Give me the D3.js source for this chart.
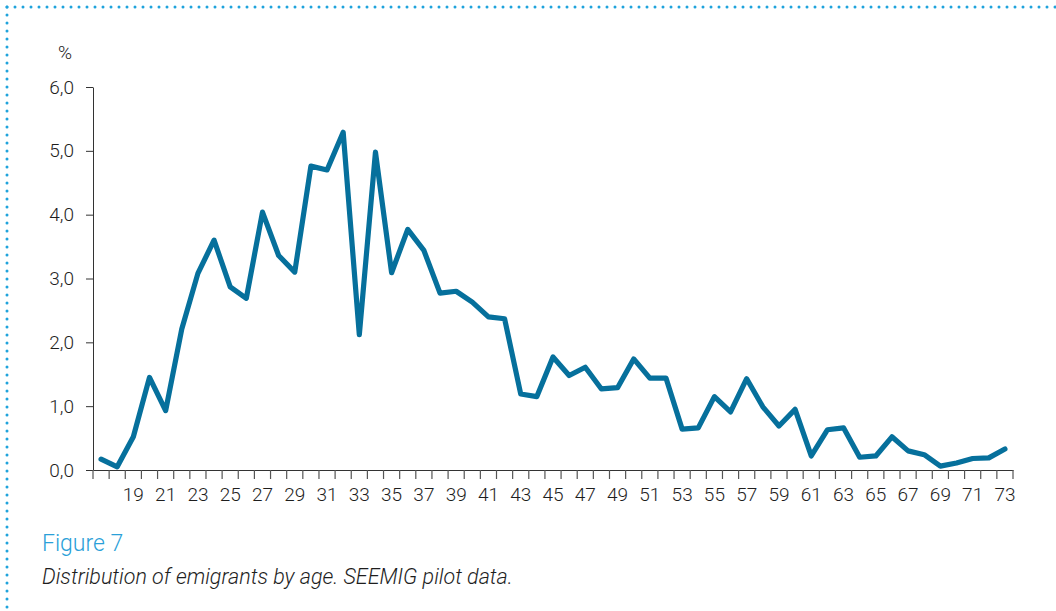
<!DOCTYPE html>
<html>
<head>
<meta charset="utf-8">
<script src="https://cdn.jsdelivr.net/npm/d3@7"></script>
<style>
  body { margin: 0; background: #fff; }
  svg text { font-family: Roboto, "Liberation Sans", sans-serif; font-weight: 300; fill: #1e1e1e; }
  .axis path, .axis line { stroke: #333; }
  .bnd-tick { stroke: #555; stroke-width: 1.2; }
  .caption-num { fill: #2aa0d8; }
  .caption-txt { font-style: italic; fill: #1e1e1e; }
</style>
</head>
<body>
<svg id="chart" width="1056" height="611"></svg>
<script>
'use strict';

(() => {

  //ages on the x axis, 17 to 73
  const ages = [17, 18, 19, 20, 21, 22, 23, 24, 25, 26, 27, 28, 29, 30, 31, 32, 33, 34, 35, 36, 37,
    38, 39, 40, 41, 42, 43, 44, 45, 46, 47, 48, 49, 50, 51, 52, 53, 54, 55, 56, 57, 58, 59, 60,
    61, 62, 63, 64, 65, 66, 67, 68, 69, 70, 71, 72, 73];
  //share of emigrants (%) per age
  const shares = [0.17, 0.05, 0.52, 1.45, 0.93, 2.21, 3.08, 3.60, 2.87, 2.69, 4.04, 3.36, 3.10, 4.76, 4.70, 5.29,
    2.12, 4.98, 3.09, 3.77, 3.44, 2.77, 2.80, 2.63, 2.40, 2.37, 1.19, 1.15, 1.77, 1.48, 1.61, 1.27,
    1.29, 1.74, 1.44, 1.44, 0.64, 0.66, 1.15, 0.91, 1.43, 0.99, 0.69, 0.95, 0.22, 0.63, 0.66, 0.20,
    0.22, 0.52, 0.30, 0.24, 0.06, 0.11, 0.18, 0.19, 0.33];
  const labelledAges = [19, 21, 23, 25, 27, 29, 31, 33, 35, 37, 39, 41, 43, 45, 47, 49, 51, 53, 55,
    57, 59, 61, 63, 65, 67, 69, 71, 73];
  const yTicks = [0, 1, 2, 3, 4, 5, 6];

  const svg = d3.select('#chart');
  const fmt = (v) => d3.format('.1f')(v).replace('.', ',');

  //dotted frame, top and left
  const frame = svg.append('g')
    .attr('stroke', '#1fa3dc')
    .attr('stroke-width', 3)
    .attr('stroke-linecap', 'round')
    .attr('stroke-dasharray', '0 8');
  frame.append('line').attr('x1', 7).attr('x2', 1056).attr('y1', 7).attr('y2', 7);
  frame.append('line').attr('x1', 7).attr('x2', 7).attr('y1', 7).attr('y2', 611);

  //scales
  const x = d3.scaleBand().domain(ages).range([93, 1013]);
  const y = d3.scaleLinear().domain([0, 6]).range([470, 87]);

  //y axis
  svg.append('g')
    .attr('class', 'axis')
    .attr('transform', 'translate(93,0)')
    .call(d3.axisLeft(y).tickValues(yTicks).tickSize(7).tickPadding(12).tickFormat(fmt).tickSizeOuter(0))
    .call((g) => g.selectAll('text').style('font-size', '19px'));

  //x axis: labels in the middle of each band
  svg.append('g')
    .attr('class', 'axis')
    .attr('transform', 'translate(0,470)')
    .call(d3.axisBottom(x).tickValues(labelledAges).tickSize(0).tickPadding(18).tickSizeOuter(0))
    .call((g) => g.selectAll('text').style('font-size', '19px'));
  //tick marks on band edges
  const edges = ages.map((a) => x(a)).concat([x.range()[1]]);
  svg.append('g')
    .selectAll('line')
    .data(edges)
    .join('line')
    .attr('class', 'bnd-tick')
    .attr('x1', (d) => d)
    .attr('x2', (d) => d)
    .attr('y1', 470)
    .attr('y2', 479);

  //unit
  svg.append('text')
    .attr('x', 65)
    .attr('y', 59)
    .attr('text-anchor', 'middle')
    .style('font-size', '19px')
    .text('%');

  //the line
  const line = d3.line()
    .x((d, i) => x(ages[i]) + x.bandwidth() / 2)
    .y((d) => y(d));
  svg.append('path')
    .datum(shares)
    .attr('d', line)
    .attr('fill', 'none')
    .attr('stroke', '#06709c')
    .attr('stroke-width', 5.2)
    .attr('stroke-linejoin', 'round')
    .attr('stroke-linecap', 'round');

  //caption
  svg.append('text')
    .attr('class', 'caption-num')
    .attr('x', 42)
    .attr('y', 551)
    .style('font-size', '23px')
    .text('Figure 7');
  svg.append('text')
    .attr('class', 'caption-txt')
    .attr('x', 42)
    .attr('y', 584)
    .style('font-size', '21.5px')
    .text('Distribution of emigrants by age. SEEMIG pilot data.');

})();
</script>
</body>
</html>
